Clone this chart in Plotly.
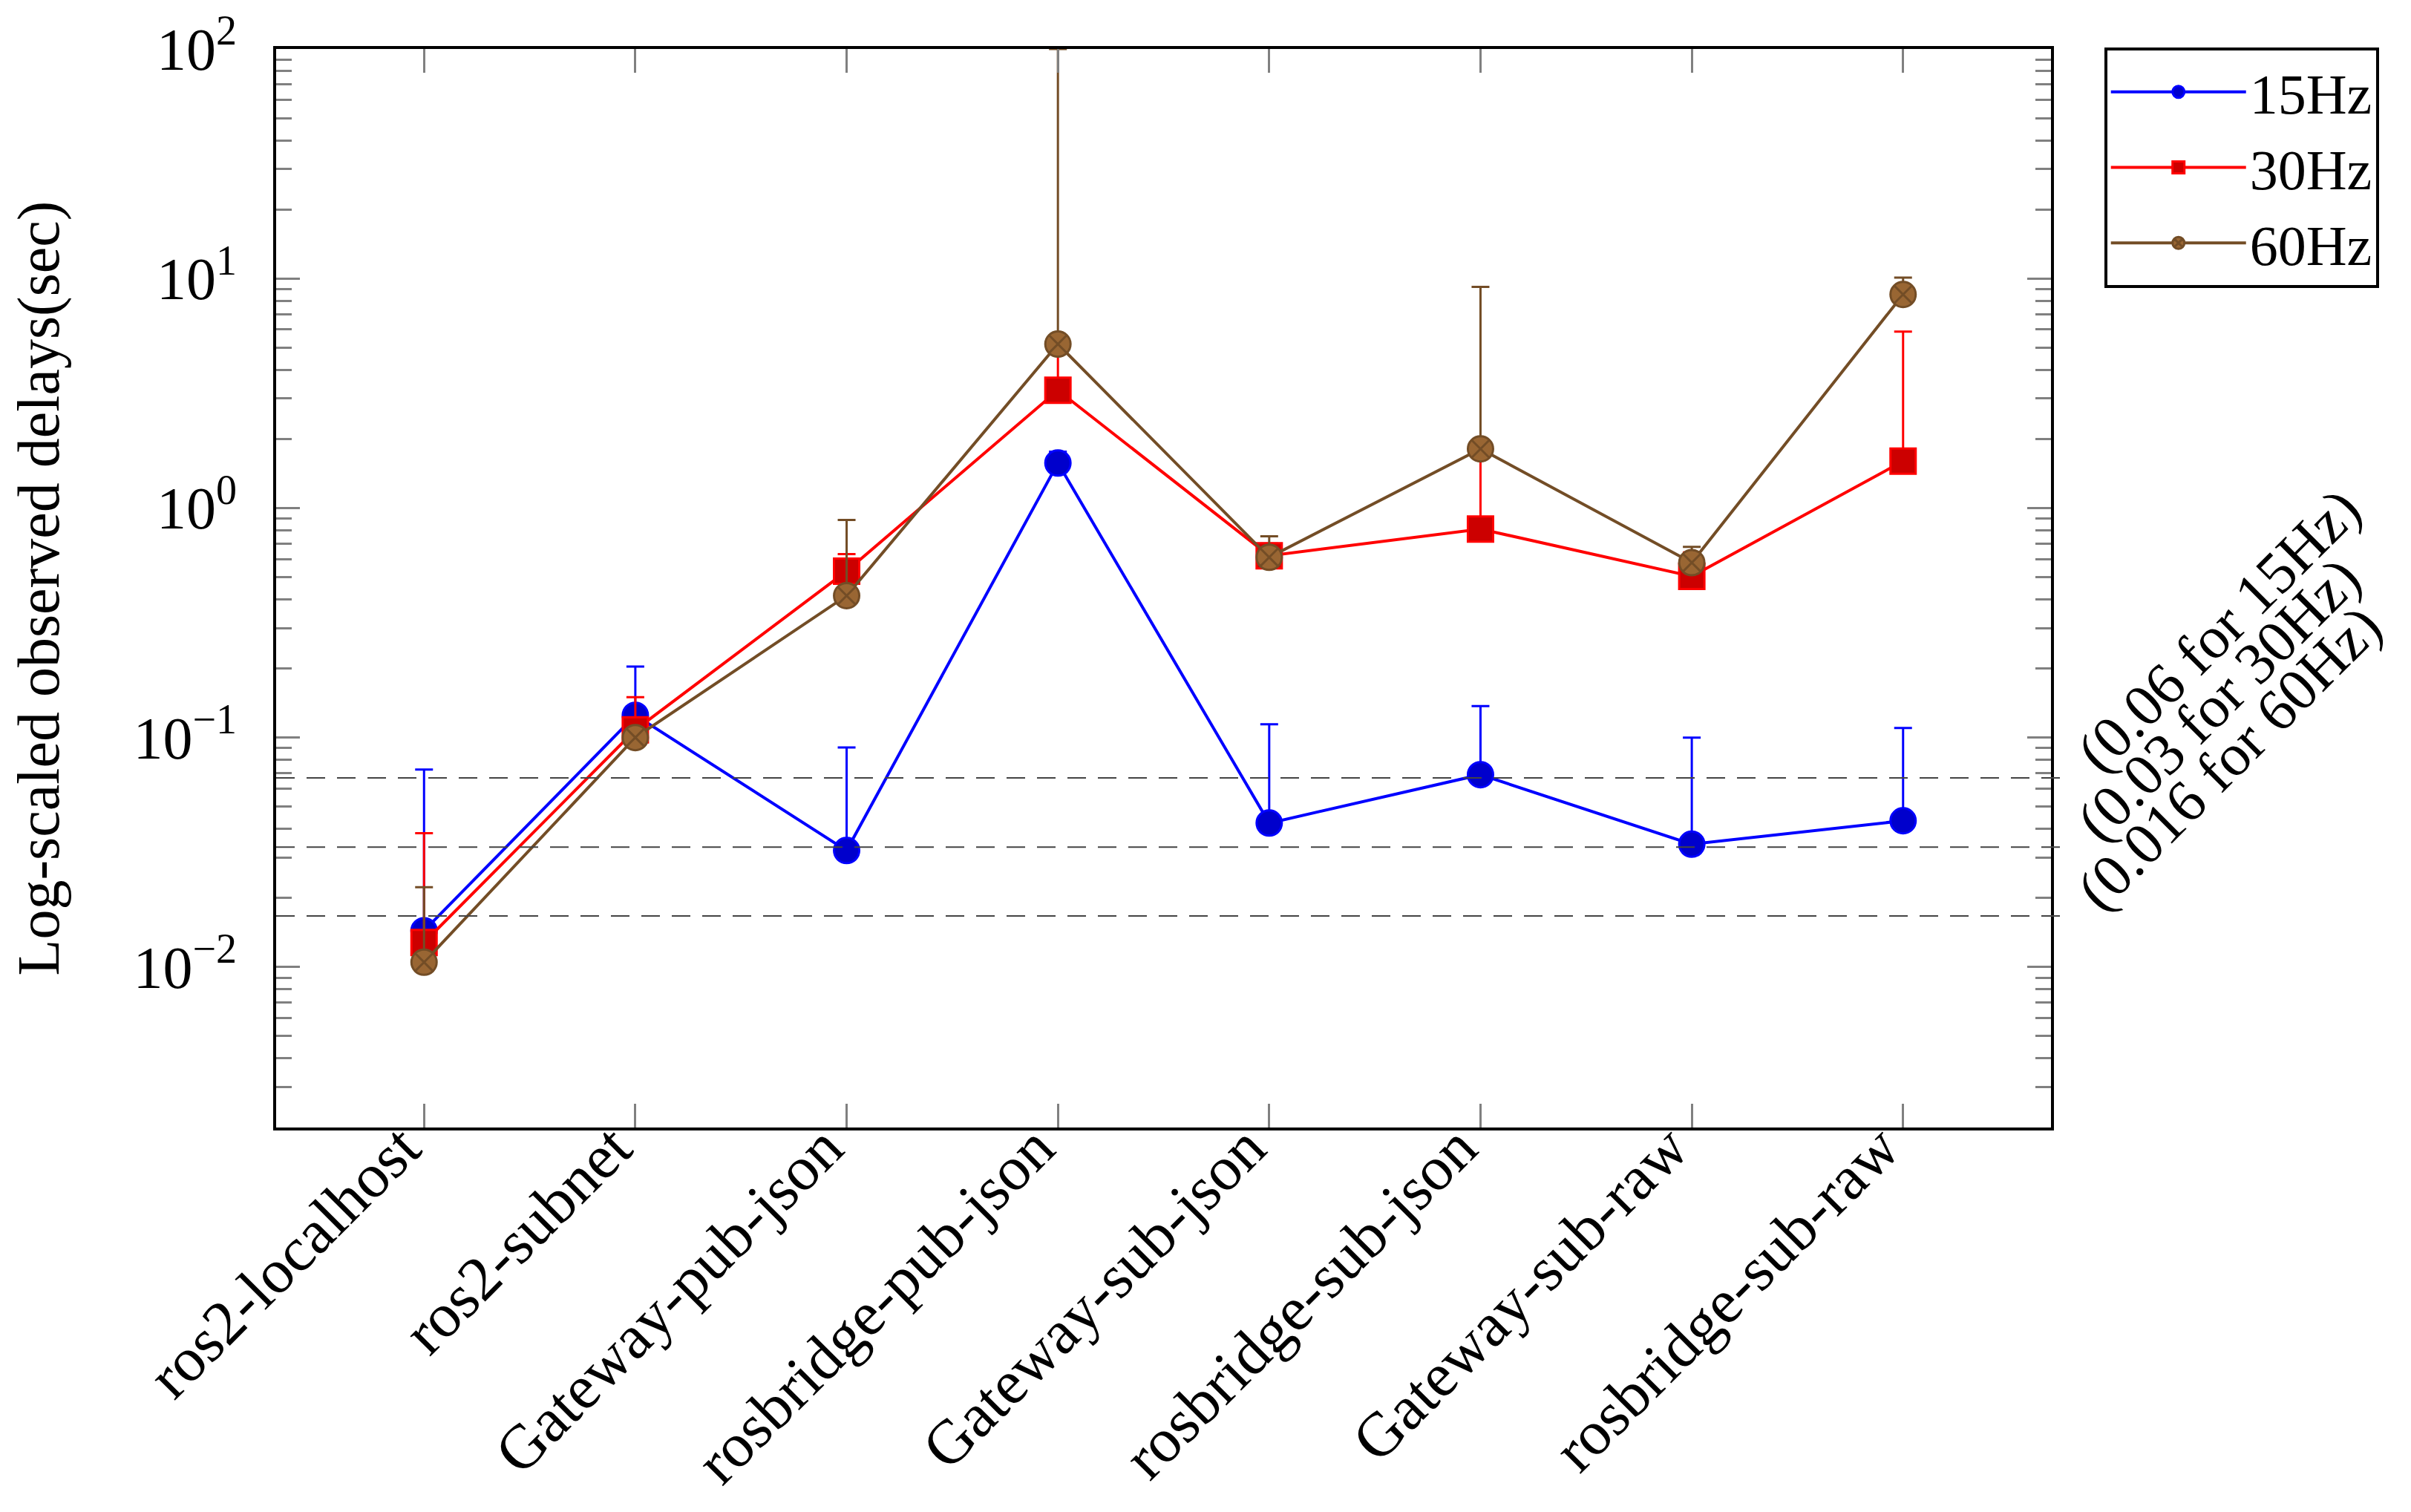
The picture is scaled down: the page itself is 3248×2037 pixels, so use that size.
import math
import plotly.graph_objects as go

categories = ["ros2-localhost", "ros2-subnet", "Gateway-pub-json", "rosbridge-pub-json",
              "Gateway-sub-json", "rosbridge-sub-json", "Gateway-sub-raw", "rosbridge-sub-raw"]

delay_15 = [0.0144, 0.125, 0.0322, 1.57, 0.0424, 0.0689, 0.0343, 0.0434]
upper_15 = [0.0725, 0.204, 0.0906, 1.76, 0.1143, 0.137, 0.100, 0.110]

delay_30 = [0.0128, 0.108, 0.531, 3.26, 0.62, 0.81, 0.504, 1.60]
upper_30 = [0.0383, 0.150, 0.630, 5.0, 0.70, 1.75, 0.64, 5.87]

delay_60 = [0.0105, 0.100, 0.415, 5.18, 0.61, 1.81, 0.578, 8.52]
upper_60 = [0.0223, 0.105, 0.887, 100.0, 0.753, 9.2, 0.677, 10.1]

thresholds = [0.0667, 0.0333, 0.0167]
threshold_labels = ["(0.06 for 15Hz)", "(0.03 for 30Hz)", "(0.016 for 60Hz)"]

ytick_vals = [0.01, 0.1, 1, 10, 100]
ytick_text = ["10<sup>\u22122</sup>", "10<sup>\u22121</sup>", "10<sup>0</sup>",
              "10<sup>1</sup>", "10<sup>2</sup>"]

FONT = "Liberation Serif"
FS = 80
Y_MIN, Y_MAX = math.log10(0.002), 2.0

series = [
    ("15Hz", delay_15, upper_15, "#0000FF", "#0000CC", "#0000FF", "circle"),
    ("30Hz", delay_30, upper_30, "#FF0000", "#CC0000", "#FF0000", "square"),
    ("60Hz", delay_60, upper_60, "#734D26", "#996633", "#734D26", "circle-x"),
]

fig = go.Figure()
for name, vals, ups, lc, fc, mlc, sym in series:
    plus = [u - v for u, v in zip(ups, vals)]
    fig.add_trace(go.Scatter(
        x=categories, y=vals, name=name, mode="lines+markers",
        line=dict(color=lc, width=4),
        marker=dict(symbol=sym, size=34, color=fc, line=dict(color=mlc, width=3)),
        error_y=dict(type="data", symmetric=False, array=plus,
                     arrayminus=[0] * len(vals), color=lc, thickness=3, width=12),
    ))

for t in thresholds:
    frac = (math.log10(t) - Y_MIN) / (Y_MAX - Y_MIN)
    fig.add_shape(type="line", xref="x domain", x0=0, x1=1.01,
                  yref="y domain", y0=frac, y1=frac,
                  line=dict(color="#444444", width=2, dash="25px,16px"), layer="above")

xs = [226, 226, 240]
ys = [199, 199, 213]
for t, lab, dx, dy in zip(thresholds, threshold_labels, xs, ys):
    fig.add_annotation(text=lab, xref="paper", x=1.0, yref="y", y=math.log10(t),
                       xshift=dx, yshift=dy, showarrow=False, textangle=-45,
                       xanchor="center", yanchor="middle",
                       font=dict(family=FONT, size=FS, color="black"))

minor_vals = [m * 10 ** e for e in range(-3, 2) for m in range(2, 10)]

fig.update_layout(
    width=3240, height=2029,
    margin=dict(l=364, r=485, t=58, b=518),
    paper_bgcolor="white", plot_bgcolor="rgba(0,0,0,0)",
    font=dict(family=FONT, size=FS, color="black"),
    showlegend=True,
    legend=dict(x=1.03, y=1.0015, xanchor="left", yanchor="top",
                bordercolor="black", borderwidth=4, bgcolor="white",
                font=dict(family=FONT, size=76), itemwidth=182,
                tracegroupgap=0),
    xaxis=dict(
        type="category", range=[-0.7, 7.7], tickangle=-45, automargin=False,
        showline=True, linecolor="black", linewidth=4, mirror="allticks",
        ticks="inside", ticklen=32, tickwidth=3, tickcolor="#808080",
        showgrid=False, zeroline=False,
        tickfont=dict(family=FONT, size=84),
        ticklabelshift=-30, ticklabelstandoff=-60,
    ),
    yaxis=dict(
        type="log", range=[Y_MIN, Y_MAX], automargin=False,
        tickmode="array", tickvals=ytick_vals, ticktext=ytick_text,
        showline=True, linecolor="black", linewidth=4, mirror="allticks",
        ticks="inside", ticklen=32, tickwidth=3, tickcolor="#808080",
        showgrid=False, zeroline=False,
        tickfont=dict(family=FONT, size=FS),
        ticklabelstandoff=33,
        title=dict(text="Log-scaled observed delays(sec)", standoff=78,
                   font=dict(family=FONT, size=FS)),
        minor=dict(tickmode="array", tickvals=minor_vals, ticks="inside",
                   ticklen=21, tickwidth=3, tickcolor="#808080", showgrid=False),
    ),
)

fig.write_html("out.html")
